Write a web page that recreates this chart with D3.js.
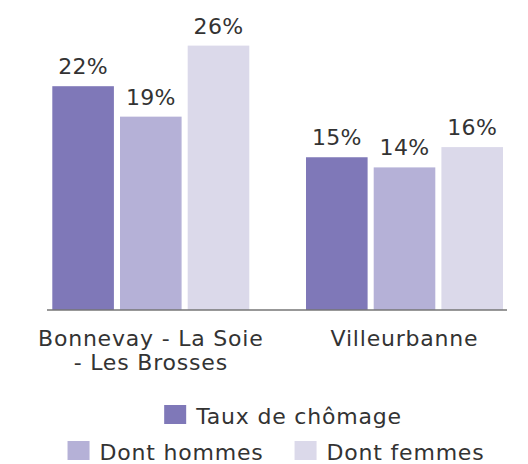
<!DOCTYPE html>
<html>
<head>
<meta charset="utf-8">
<script src="https://cdn.jsdelivr.net/npm/d3@7"></script>
<style>
  html, body { margin: 0; padding: 0; background: #ffffff; }
  svg { display: block; }
  text { font-family: "DejaVu Sans", sans-serif; fill: #333333; }
</style>
</head>
<body>
<svg id="chart" width="528" height="464"></svg>
<script>
const categories = ["Bonnevay - La Soie\n- Les Brosses", "Villeurbanne"];
const seriesNames = ["Taux de chômage", "Dont hommes", "Dont femmes"];
const tauxChomage = [22, 15];
const dontHommes = [19, 14];
const dontFemmes = [26, 16];
const colors = ["#7f78b8", "#b5b1d7", "#dbd9ea"];

const seriesValues = [tauxChomage, dontHommes, dontFemmes];
const data = categories.map((c, i) => ({
  category: c,
  values: seriesNames.map((s, j) => ({ series: s, value: seriesValues[j][i] }))
}));

const svg = d3.select("#chart");
const baseline = 309.5;
const fontSize = 22;
const spacing = "0.8px";

const x0 = d3.scaleBand()
  .domain(categories)
  .range([52.3, 503])
  .paddingInner(0.2235)
  .paddingOuter(0);

const x1 = d3.scaleBand()
  .domain(seriesNames)
  .range([0, x0.bandwidth()])
  .paddingInner(0.09)
  .paddingOuter(0);

const y = d3.scaleLinear()
  .domain([0, 30])
  .range([baseline, baseline - 30 * 10.15]);

const color = d3.scaleOrdinal().domain(seriesNames).range(colors);

const groups = svg.append("g").selectAll("g")
  .data(data)
  .join("g")
  .attr("transform", d => `translate(${x0(d.category)},0)`);

groups.selectAll("rect")
  .data(d => d.values)
  .join("rect")
  .attr("x", d => x1(d.series))
  .attr("y", d => y(d.value))
  .attr("width", x1.bandwidth())
  .attr("height", d => y(0) - y(d.value))
  .attr("fill", d => color(d.series));

groups.selectAll("text.val")
  .data(d => d.values)
  .join("text")
  .attr("class", "val")
  .attr("x", d => x1(d.series) + x1.bandwidth() / 2)
  .attr("y", d => y(d.value) - 12)
  .attr("text-anchor", "middle")
  .style("font-size", fontSize + "px")
  .style("letter-spacing", "0.3px")
  .text(d => d.value + "%");

// baseline axis
const xAxis = d3.axisBottom(x0).tickSize(0).tickFormat("");
const axisG = svg.append("g")
  .attr("transform", `translate(0,${baseline})`)
  .call(xAxis);
axisG.select(".domain")
  .attr("d", `M47,0.5H507`)
  .attr("stroke", "#333333")
  .attr("stroke-width", 1.2);

// category labels
svg.append("g").selectAll("text")
  .data(categories)
  .join("text")
  .attr("text-anchor", "middle")
  .attr("x", d => x0(d) + x0.bandwidth() / 2)
  .attr("y", 346)
  .style("font-size", fontSize + "px")
  .style("letter-spacing", spacing)
  .each(function(d) {
    const lines = d.split("\n");
    d3.select(this).selectAll("tspan")
      .data(lines)
      .join("tspan")
      .attr("x", x0(d) + x0.bandwidth() / 2)
      .attr("dy", (l, i) => i === 0 ? 0 : 23.5)
      .text(l => l);
  });

// legend
const legendRows = [[0], [1, 2]];
const rowBaselines = [424, 460];
const rowCenters = [283, 276];
const sw = 22, sh = 19, textGap = 10, itemGap = 31;
const legend = svg.append("g");
legendRows.forEach((row, ri) => {
  const rowG = legend.append("g");
  let cx = 0;
  row.forEach(si => {
    const item = rowG.append("g").attr("transform", `translate(${cx},0)`);
    item.append("rect")
      .attr("x", 0).attr("y", rowBaselines[ri] - sh)
      .attr("width", sw).attr("height", sh)
      .attr("fill", colors[si]);
    const t = item.append("text")
      .attr("x", sw + textGap)
      .attr("y", rowBaselines[ri])
      .style("font-size", fontSize + "px")
      .style("letter-spacing", spacing)
      .text(seriesNames[si]);
    cx += sw + textGap + t.node().getComputedTextLength() + itemGap;
  });
  const w = cx - itemGap;
  rowG.attr("transform", `translate(${rowCenters[ri] - w / 2},0)`);
});
</script>
</body>
</html>
